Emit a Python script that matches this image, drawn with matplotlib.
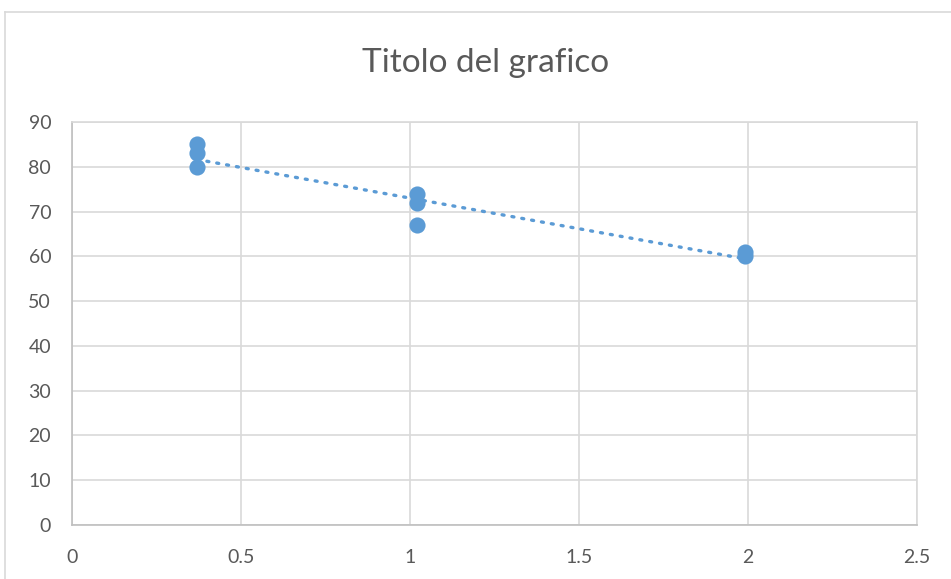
import numpy as np
import matplotlib.pyplot as plt
from matplotlib.lines import Line2D

# data
x_vals = [0.37, 0.37, 0.37, 1.02, 1.02, 1.02, 1.99, 1.99]
y_vals = [85, 83, 80, 74, 72, 67, 61, 60]
x_ticks = [0, 0.5, 1, 1.5, 2, 2.5]
x_tick_labels = ["0", "0.5", "1", "1.5", "2", "2.5"]
y_ticks = [0, 10, 20, 30, 40, 50, 60, 70, 80, 90]

BLUE = "#5b9bd5"
GRID = "#d9d9d9"
TEXT = "#595959"

plt.rcParams["font.family"] = ["Lato", "DejaVu Sans"]

fig = plt.figure(figsize=(9.51, 5.79), dpi=100)
ax = fig.add_axes([72 / 951, 1 - 525 / 579, (917 - 72) / 951, (525 - 122) / 579])

# chart outer border (Excel frame, cropped on right/bottom)
fig.add_artist(Line2D([5 / 951, 5 / 951], [0, 1 - 12 / 579], transform=fig.transFigure, color=GRID, lw=1.2))
fig.add_artist(Line2D([5 / 951, 1], [1 - 12 / 579, 1 - 12 / 579], transform=fig.transFigure, color=GRID, lw=1.2))

ax.scatter(x_vals, y_vals, s=135, color=BLUE, zorder=3, linewidths=0)

# linear trendline
slope, intercept = np.polyfit(x_vals, y_vals, 1)
xt = np.array([min(x_vals), max(x_vals)])
ax.plot(xt, slope * xt + intercept, color=BLUE, lw=2.4, linestyle=(0, (0.6, 2.4)),
        dash_capstyle="round", zorder=4)

ax.set_xlim(0, 2.5)
ax.set_ylim(0, 90)
ax.set_xticks(x_ticks)
ax.set_xticklabels(x_tick_labels)
ax.set_yticks(y_ticks)
ax.grid(True, color=GRID, lw=1.2)
ax.set_axisbelow(True)
ax.tick_params(length=0, labelsize=14, labelcolor=TEXT)
ax.tick_params(axis="x", pad=17)
ax.tick_params(axis="y", pad=15)
for side, sp in ax.spines.items():
    sp.set_color(GRID)
    sp.set_linewidth(1.2)
ax.spines["left"].set_color("#bfbfbf")
ax.spines["bottom"].set_color("#bfbfbf")

fig.text(486 / 951, 1 - 63 / 579, "Titolo del grafico", ha="center", va="center",
         fontsize=24, color=TEXT)

fig.savefig("out.png", dpi=100)
